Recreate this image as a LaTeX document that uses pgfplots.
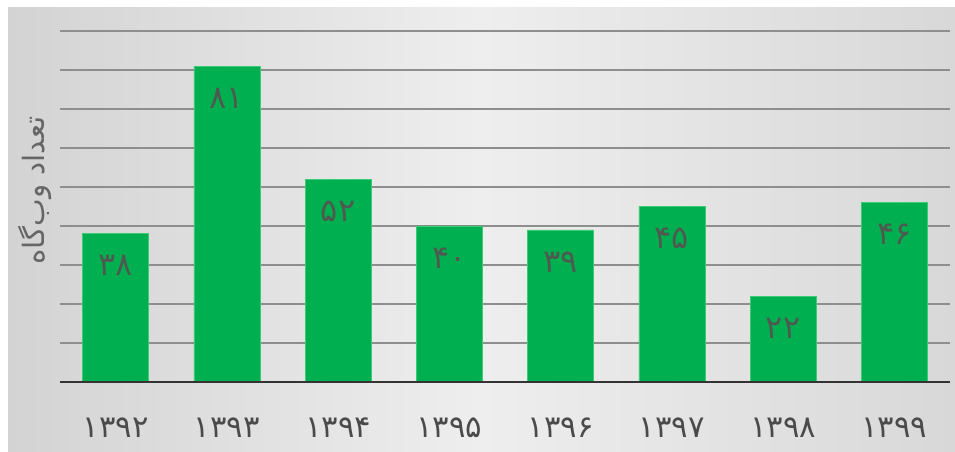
\documentclass[border=0pt]{standalone}
\usepackage{pgfplots}
\pgfplotsset{compat=1.18}
\usepackage{fontspec}
\TeXXeTstate=1
\newfontfamily\fa[Script=Arabic]{DejaVu Sans}
\definecolor{barg}{HTML}{00B050}
\definecolor{baredge}{HTML}{3CCB74}
\definecolor{valtxt}{HTML}{4E5A50}
\definecolor{ticktxt}{HTML}{4A4A4A}
\definecolor{labtxt}{HTML}{666666}
\definecolor{gridc}{HTML}{8E8E8E}
\definecolor{bgl}{HTML}{D3D3D3}
\definecolor{bgm}{HTML}{EEEEEE}
\definecolor{bgr}{HTML}{D8D8D8}
\begin{document}
\begin{tikzpicture}
\fill[white] (0pt,0pt) rectangle (716.25pt,339pt);
\shade[left color=bgl, right color=bgr, middle color=bgm] (6pt,0pt) rectangle (716.25pt,333pt);
\begin{axis}[
  at={(45pt,52.5pt)}, anchor=south west,
  scale only axis, width=667.5pt, height=263.25pt,
  xmin=-0.5, xmax=7.5, ymin=0, ymax=90,
  ybar, bar width=49.5pt,
  axis line style={draw=none},
  ytick={10,20,...,90}, yticklabels={},
  ymajorgrids, grid style={gridc, line width=0.9pt},
  major tick length=0pt,
  xtick=data,
  xticklabels={{\fa ۱۳۹۲},{\fa ۱۳۹۳},{\fa ۱۳۹۴},{\fa ۱۳۹۵},{\fa ۱۳۹۶},{\fa ۱۳۹۷},{\fa ۱۳۹۸},{\fa ۱۳۹۹}},
  xticklabel style={font=\fa\fontsize{23}{23}\selectfont, text=ticktxt, anchor=center, yshift=-34pt},
  ylabel={\fa\beginR تعداد وب‌گاه\endR},
  ylabel style={font=\fa\fontsize{22}{22}\selectfont, text=labtxt, at={(axis description cs:-0.028,0.545)}, anchor=center},
  point meta=explicit symbolic,
  nodes near coords,
  every node near coord/.append style={font=\fa\fontsize{24}{24}\selectfont, text=valtxt, anchor=center, yshift=-24pt},
  clip=false,
]
\addplot[fill=barg, draw=baredge, line width=0.5pt] coordinates {
  (0,38) [۳۸]
  (1,81) [۸۱]
  (2,52) [۵۲]
  (3,40) [۴۰]
  (4,39) [۳۹]
  (5,45) [۴۵]
  (6,22) [۲۲]
  (7,46) [۴۶]
};
\draw[black!80, line width=2.2pt] (axis cs:-0.5,0) -- (axis cs:7.5,0);
\end{axis}
\end{tikzpicture}
\end{document}
